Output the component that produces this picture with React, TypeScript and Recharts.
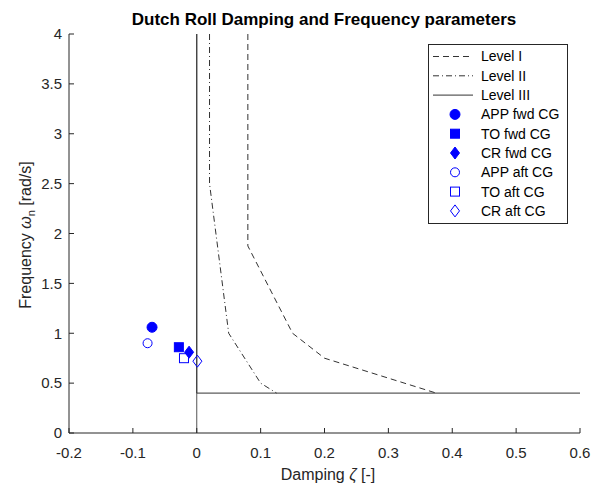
import React from "react";
import { ComposedChart, Line, Scatter, XAxis, YAxis, ReferenceLine, Label } from "recharts";

// handling-quality boundaries (MIL-F-8785C style)
const level1 = [
  { x: 0.08, y: 4 },
  { x: 0.08, y: 1.875 },
  { x: 0.15, y: 1.0 },
  { x: 0.2, y: 0.75 },
  { x: 0.375, y: 0.4 },
];
const level2 = [
  { x: 0.02, y: 4 },
  { x: 0.02, y: 2.5 },
  { x: 0.05, y: 1.0 },
  { x: 0.1, y: 0.5 },
  { x: 0.125, y: 0.4 },
];
const level3 = [
  { x: 0, y: 4 },
  { x: 0, y: 0.4 },
  { x: 0.6, y: 0.4 },
];

const appFwd = [{ x: -0.07, y: 1.06 }];
const toFwd = [{ x: -0.028, y: 0.86 }];
const crFwd = [{ x: -0.012, y: 0.81 }];
const appAft = [{ x: -0.077, y: 0.9 }];
const toAft = [{ x: -0.02, y: 0.75 }];
const crAft = [{ x: 0.001, y: 0.72 }];

const xTicks = [-0.2, -0.1, 0, 0.1, 0.2, 0.3, 0.4, 0.5, 0.6];
const yTicks = [0, 0.5, 1, 1.5, 2, 2.5, 3, 3.5, 4];

const BLUE = "#0000ff";
const AX = "#262626";
const FONT = "'Liberation Sans', Arial, sans-serif";

const fmt = (v: number) => `${Math.round(v * 10) / 10}`;

type Marker = "circle" | "square" | "diamond";

function drawMarker(kind: Marker, filled: boolean, cx: number, cy: number) {
  const fill = filled ? BLUE : "none";
  if (kind === "circle") return <circle cx={cx} cy={cy} r={filled ? 5 : 4.5} fill={fill} stroke={BLUE} strokeWidth={1} />;
  if (kind === "square")
    return <rect x={cx - 4.5} y={cy - 4.5} width={9} height={9} fill={fill} stroke={BLUE} strokeWidth={1} />;
  return (
    <polygon
      points={`${cx},${cy - 6} ${cx + 4.5},${cy} ${cx},${cy + 6} ${cx - 4.5},${cy}`}
      fill={fill}
      stroke={BLUE}
      strokeWidth={1}
    />
  );
}

const shapeOf = (kind: Marker, filled: boolean) => (p: any) => drawMarker(kind, filled, p.cx, p.cy);

const XTick = (p: any) => (
  <g>
    <line x1={p.x} x2={p.x} y1={p.y - 14} y2={p.y - 19} stroke={AX} />
    <text x={p.x} y={p.y} dy="0.71em" textAnchor="middle" fill={AX} fontSize={15} fontFamily={FONT}>
      {fmt(p.payload.value)}
    </text>
  </g>
);

const YTick = (p: any) => (
  <g>
    <line x1={p.x + 7} x2={p.x + 12} y1={p.y} y2={p.y} stroke={AX} />
    <text x={p.x} y={p.y} dy="0.355em" textAnchor="end" fill={AX} fontSize={15} fontFamily={FONT}>
      {fmt(p.payload.value)}
    </text>
  </g>
);

const legendItems: { label: string; line?: string; marker?: Marker; filled?: boolean }[] = [
  { label: "Level I", line: "6 4" },
  { label: "Level II", line: "6 3 1 3" },
  { label: "Level III", line: "none" },
  { label: "APP fwd CG", marker: "circle", filled: true },
  { label: "TO fwd CG", marker: "square", filled: true },
  { label: "CR fwd CG", marker: "diamond", filled: true },
  { label: "APP aft CG", marker: "circle", filled: false },
  { label: "TO aft CG", marker: "square", filled: false },
  { label: "CR aft CG", marker: "diamond", filled: false },
];

function LegendBox() {
  return (
    <svg width={141} height={180} style={{ position: "absolute", left: 428, top: 44 }}>
      <rect x={0.5} y={0.5} width={139} height={179} fill="#fff" stroke={AX} strokeWidth={1} />
      {legendItems.map((it, i) => {
        const y = 12.5 + i * 19.3;
        return (
          <g key={it.label}>
            {it.line !== undefined ? (
              <line
                x1={5}
                x2={45}
                y1={y}
                y2={y}
                stroke="#333"
                strokeDasharray={it.line === "none" ? undefined : it.line}
              />
            ) : (
              drawMarker(it.marker as Marker, !!it.filled, 27, y)
            )}
            <text x={53} y={y} dy="0.355em" fontSize={14} fontFamily={FONT} fill="#000">
              {it.label}
            </text>
          </g>
        );
      })}
    </svg>
  );
}

export default function App() {
  return (
    <div style={{ position: "absolute", left: 0, top: 0, width: 594, height: 483, background: "#fff" }}>
      <ComposedChart width={594} height={483} margin={{ top: 34, right: 14, bottom: 0, left: 0 }}>
        <XAxis
          type="number"
          dataKey="x"
          domain={[-0.2, 0.6]}
          ticks={xTicks}
          allowDataOverflow
          height={50}
          stroke={AX}
          tickLine={false}
          tickSize={0}
          tickMargin={14}
          tick={<XTick />}
        >
          <Label
            content={() => (
              <g>
                <text x={324} y={25} textAnchor="middle" fontSize={17} fontWeight="bold" fontFamily={FONT} fill="#000">
                  Dutch Roll Damping and Frequency parameters
                </text>
                <text x={328} y={480} textAnchor="middle" fontSize={16} fontFamily={FONT} fill={AX}>
                  Damping <tspan fontStyle="italic">ζ</tspan> [-]
                </text>
              </g>
            )}
          />
        </XAxis>
        <YAxis
          type="number"
          dataKey="y"
          domain={[0, 4]}
          ticks={yTicks}
          allowDataOverflow
          width={69}
          stroke={AX}
          tickLine={false}
          tickSize={0}
          tickMargin={7}
          tick={<YTick />}
        >
          <Label
            content={() => (
              <text
                x={31}
                y={235}
                transform="rotate(-90 31 235)"
                textAnchor="middle"
                fontSize={16}
                fontFamily={FONT}
                fill={AX}
              >
                Frequency <tspan fontStyle="italic">ω</tspan>
                <tspan fontSize={11} dy={4}>n</tspan>
                <tspan dy={-4}> [rad/s]</tspan>
              </text>
            )}
          />
        </YAxis>
        <ReferenceLine x={0} stroke="#555" strokeWidth={1} />
        <Line data={level1} dataKey="y" stroke="#333" strokeWidth={1} strokeDasharray="6 4" dot={false} isAnimationActive={false} />
        <Line data={level2} dataKey="y" stroke="#333" strokeWidth={1} strokeDasharray="6 3 1 3" dot={false} isAnimationActive={false} />
        <Line data={level3} dataKey="y" stroke="#333" strokeWidth={1} dot={false} isAnimationActive={false} />
        <Scatter data={appFwd} dataKey="y" shape={shapeOf("circle", true)} isAnimationActive={false} />
        <Scatter data={toFwd} dataKey="y" shape={shapeOf("square", true)} isAnimationActive={false} />
        <Scatter data={crFwd} dataKey="y" shape={shapeOf("diamond", true)} isAnimationActive={false} />
        <Scatter data={appAft} dataKey="y" shape={shapeOf("circle", false)} isAnimationActive={false} />
        <Scatter data={toAft} dataKey="y" shape={shapeOf("square", false)} isAnimationActive={false} />
        <Scatter data={crAft} dataKey="y" shape={shapeOf("diamond", false)} isAnimationActive={false} />
      </ComposedChart>
      <LegendBox />
    </div>
  );
}
